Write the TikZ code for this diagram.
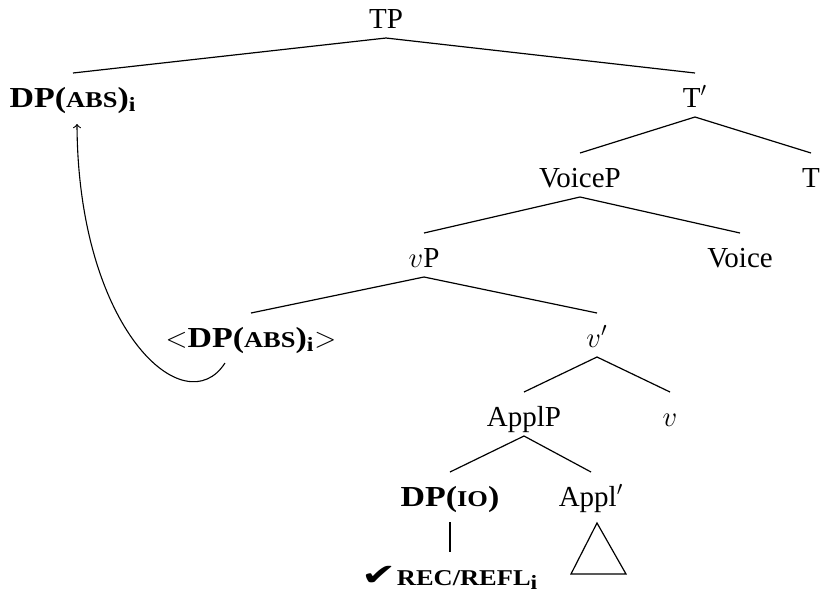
\documentclass[tikz,border=0pt]{standalone}
\usepackage{fontspec}
\setmainfont{Liberation Serif}[BoldFeatures={FakeStretch=1.17}]
\newfontfamily\symfont{DejaVu Sans}
\usetikzlibrary{calc}
% faked small capitals and the bold index
\newcommand\smc[1]{{\fontsize{11.3}{13}\selectfont #1}}
\newcommand\idx{\textsubscript{\textbf{i}}}
% one branch of the tree, from under the mother to above the daughter
\newcommand\treebranch[2]{\draw[branch] ([yshift=-5pt]#1.base) -- ([yshift=17pt]#2.base);}
\begin{document}
\begin{tikzpicture}[x=0.5pt,y=-0.5pt,
  every node/.style={inner sep=0pt, anchor=base, font=\fontsize{14.5}{17}\selectfont},
  branch/.style={line width=0.6pt},
  movement/.style={->, line width=0.55pt}]
\useasboundingbox (0,0) rectangle (820,596);

\node (tp)     at (386,28)  {TP};
\node (dpabs)  at (73,107)  {\textbf{DP(\smc{ABS})\idx}};
\node (tbar)   at (695,107) {T$'$};
\node (voicep) at (580,187) {VoiceP};
\node (t)      at (811,187) {T};
\node (vp)     at (424,267) {$v$P};
\node (voice)  at (740,267) {Voice};
\node (dpt)    at (251,347) {$<$\textbf{DP(\smc{ABS})\idx}$>$};
\node (vbar)   at (597,347) {$v'$};
\node (applp)  at (524,426) {ApplP};
\node (v)      at (670,426) {$v$};
\node (dpio)   at (450,506) {\textbf{DP(\smc{IO})}};
\node (applbar) at (591,506) {Appl$'$};
\node (refl)   at (450,585) {\scalebox{1.45}[1.05]{\symfont ✔}\textbf{\smc{REC/REFL}\idx}};

\treebranch{tp}{dpabs}
\treebranch{tp}{tbar}
\treebranch{tbar}{voicep}
\treebranch{tbar}{t}
\treebranch{voicep}{vp}
\treebranch{voicep}{voice}
\treebranch{vp}{dpt}
\treebranch{vp}{vbar}
\treebranch{vbar}{applp}
\treebranch{vbar}{v}
\treebranch{applp}{dpio}
\treebranch{applp}{applbar}

% non-branching line and roof
\draw[branch] ($(dpio.base)+(0,16)$) -- ($(dpio.base)+(0,46)$);
\draw[branch] ($(applbar.base)+(6,17)$) -- ($(applbar.base)+(-20,68)$)
  -- ($(applbar.base)+(35,68)$) -- cycle;

% movement of the absolutive DP
\draw[movement] ($(dpt.base)+(-26,16)$)
  .. controls ($(dpt.base)+(-66,78)$) and ($(dpabs.base)+(5,223)$)
  .. ($(dpabs.base)+(4,17)$);
\end{tikzpicture}
\end{document}
